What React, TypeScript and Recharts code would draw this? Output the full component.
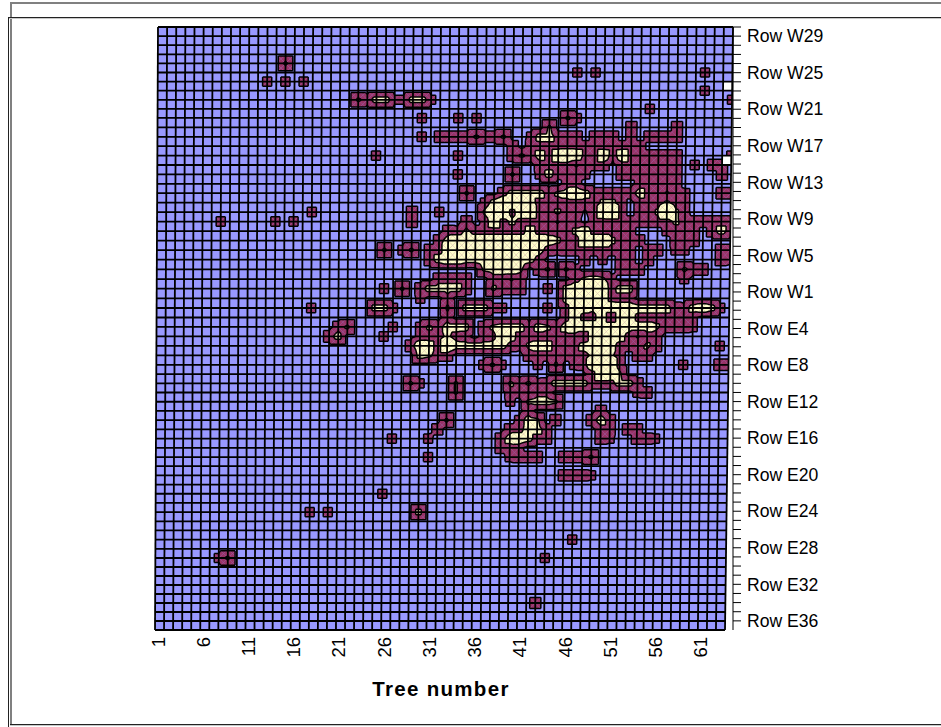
import { Scatter, ScatterChart, XAxis, YAxis } from 'recharts';

const CHART_WIDTH = 941;
const CHART_HEIGHT = 727;

const TREE_TICKS = [1, 6, 11, 16, 21, 26, 31, 36, 41, 46, 51, 56, 61];
const ROW_AXIS_LABELS = [
  'Row W29', 'Row W25', 'Row W21', 'Row W17', 'Row W13', 'Row W9', 'Row W5', 'Row W1', 'Row E4',
  'Row E8', 'Row E12', 'Row E16', 'Row E20', 'Row E24', 'Row E28', 'Row E32', 'Row E36',
];
const ROW_TICKS = Array.from({ length: 66 }, (_, i) => i);

// Cells without a reading: [tree column, grid row]
const MISSING_CELLS = [[63, 6], [63, 14]];

// Readings above background: [grid row, first tree column, one digit per tree]
const HOT_RUNS: [number, number, string][] = [
  [4, 15, '4'],
  [5, 47, '2'], [5, 49, '2'], [5, 61, '2'],
  [6, 13, '2'], [6, 15, '2'], [6, 17, '2'],
  [7, 61, '2'],
  [8, 23, '435522552'], [8, 64, '2'],
  [9, 55, '2'],
  [10, 30, '2'], [10, 34, '2'], [10, 36, '2'], [10, 46, '42'],
  [11, 44, '4'], [11, 53, '3'], [11, 58, '3'],
  [12, 30, '2'], [12, 32, '33334334'], [12, 42, '255333'], [12, 49, '333'], [12, 53, '3'], [12, 55, '3333'],
  [13, 40, '3'], [13, 42, '3333333333333'],
  [14, 25, '2'], [14, 34, '2'], [14, 40, '3435367633626333333'], [14, 64, '2'],
  [15, 43, '33331333'], [15, 52, '3333333'], [15, 60, '2'], [15, 62, '33'],
  [16, 34, '2'], [16, 40, '4'], [16, 43, '252332'], [16, 52, '3333333'], [16, 63, '3'],
  [17, 46, '33'], [17, 54, '33333'],
  [18, 35, '4'], [18, 39, '355553456533333533132'], [18, 63, '33'],
  [19, 37, '25777533333334430333432'],
  [20, 18, '2'], [20, 29, '3'], [20, 32, '2'], [20, 37, '47736633433136730324842'],
  [21, 8, '2'], [21, 14, '2'], [21, 16, '2'], [21, 29, '3'], [21, 35, '3'], [21, 37, '2634333313303333333334333333'],
  [22, 33, '324333333533334633333'], [22, 57, '2333'], [22, 62, '353'],
  [23, 32, '35666666666654336664333'], [23, 58, '333'],
  [24, 26, '4'], [24, 28, '24'], [24, 31, '33666666666653233333333'], [24, 55, '33'], [24, 58, '22'], [24, 63, '33'],
  [25, 31, '3566556666653'], [25, 48, '3'], [25, 50, '2'], [25, 52, '33'], [25, 55, '3'], [25, 63, '32'],
  [26, 37, '45564'], [26, 43, '34'], [26, 46, '42'], [26, 52, '333'], [26, 59, '433'],
  [27, 32, '3333'], [27, 38, '3313'], [27, 47, '34542'], [27, 59, '2'],
  [28, 26, '2'], [28, 28, '4'], [28, 30, '355553'], [28, 38, '4333'], [28, 44, '2'], [28, 46, '56676355'],
  [29, 30, '2'], [29, 33, '3'], [29, 46, '56666322'],
  [30, 18, '2'], [30, 25, '552'], [30, 33, '4'], [30, 35, '55522'], [30, 44, '2'], [30, 46, '365466665555325652'],
  [31, 33, '3'], [31, 46, '363361663333332'],
  [32, 21, '34'], [32, 27, '2'], [32, 30, '2435550345552543566666655543332'],
  [33, 20, '35'], [33, 26, '2'], [33, 30, '233432023753333333166653133'],
  [34, 29, '3653755555532455333566533343'], [34, 63, '2'],
  [35, 30, '5433'], [35, 42, '33333334443'], [35, 54, '33'],
  [36, 37, '242'], [36, 43, '2'], [36, 45, '4'], [36, 47, '236773'], [36, 59, '2'], [36, 63, '33'],
  [37, 49, '3764'],
  [38, 29, '42'], [38, 34, '4'], [38, 40, '434235555333553'],
  [39, 34, '4'], [39, 40, '33133'], [39, 54, '23'],
  [40, 40, '2'], [40, 42, '4554'],
  [41, 42, '3'], [41, 50, '3'],
  [42, 33, '4'], [42, 41, '254'], [42, 45, '3'], [42, 49, '353'],
  [43, 32, '3'], [43, 40, '33553'], [43, 50, '33'], [43, 53, '33'],
  [44, 27, '2'], [44, 31, '2'], [44, 39, '356533'], [44, 50, '32'], [44, 54, '332'],
  [45, 39, '332'],
  [46, 31, '2'], [46, 40, '2333'], [46, 46, '3334'],
  [48, 46, '3332'],
  [50, 26, '2'],
  [52, 18, '2'], [52, 20, '2'], [52, 30, '5'],
  [55, 47, '2'],
  [57, 8, '2'], [57, 9, '4'], [57, 44, '2'],
  [62, 43, '3'],
];

// What each digit in HOT_RUNS stands for on the contour scale
const DIGIT_VALUES = [0, 0.7, 2, 2.6, 5, 6, 7.5, 8.5, 9.5];
const LOW_LEVEL = 1;
const HIGH_LEVEL = 4.2;
const BLUE = '#9999ff';
const MAROON = '#993366';
const CREAM = '#ffffcc';

const LAST_COL = 64;
const LAST_ROW = 65;
const PLOT_LEFT = 155;
const PLOT_RIGHT = 733;
const PLOT_TOP = 27;
const PLOT_BOTTOM = 630;
// The value axis stands clear of the floor, so the column domain runs past the last tree
const COL_DOMAIN_END = 64.884;
const COL_STEP = (PLOT_RIGHT - PLOT_LEFT) / (COL_DOMAIN_END - 1);
const ROW_STEP = (PLOT_BOTTOM - PLOT_TOP) / LAST_ROW;
// Row drift of the leaning surface: [grid row, pixels]
const ROW_DRIFT = [[0, 0], [10, -1.8], [20, -0.5], [24, 0.4], [30, 2.7], [36, 3.9], [46, 3.3], [57, 2.2], [65, 0]];

const readings = new Map<string, number>();
HOT_RUNS.forEach(([row, col, digits]) => {
  digits.split('').forEach((d, i) => readings.set(`${col + i}:${row}`, DIGIT_VALUES[Number(d)]));
});
const valueAt = (col: number, row: number) => readings.get(`${col}:${row}`) ?? 0;

const cells: { col: number; row: number }[] = [];
for (let row = 0; row < LAST_ROW; row++) {
  for (let col = 1; col < LAST_COL; col++) {
    const max = Math.max(valueAt(col, row), valueAt(col + 1, row), valueAt(col, row + 1), valueAt(col + 1, row + 1));
    if (max > 0) cells.push({ col, row });
  }
}
const gridLines = [
  ...Array.from({ length: LAST_ROW + 1 }, (_, row) => ({ col: 1, row, across: true })),
  ...Array.from({ length: LAST_COL }, (_, i) => ({ col: i + 1, row: 0, across: false })),
];

function rowDrift(r: number) {
  for (let i = 1; i < ROW_DRIFT.length; i++) {
    const [r0, d0] = ROW_DRIFT[i - 1];
    const [r1, d1] = ROW_DRIFT[i];
    if (r <= r1) return d0 + ((d1 - d0) * (r - r0)) / (r1 - r0);
  }
  return 0;
}

// The original surface leans back slightly: bend the flat scale into that perspective
function lean(x: number, y: number): [number, number] {
  const depth = (PLOT_BOTTOM - y) / (PLOT_BOTTOM - PLOT_TOP);
  const across = (x - PLOT_LEFT) / 570;
  const r = (y - PLOT_TOP) / ROW_STEP;
  return [x + depth * (3 + across * 5), y + rowDrift(r)];
}

type Pt = { x: number; y: number; v: number };

function clipTriangle(tri: Pt[], level: number) {
  const poly: Pt[] = [];
  const crossings: Pt[] = [];
  tri.forEach((a, i) => {
    const b = tri[(i + 1) % 3];
    if (a.v >= level) poly.push(a);
    if (a.v >= level !== b.v >= level) {
      const f = (level - a.v) / (b.v - a.v);
      const p = { x: a.x + (b.x - a.x) * f, y: a.y + (b.y - a.y) * f, v: level };
      poly.push(p);
      crossings.push(p);
    }
  });
  return { poly, crossings };
}

const toPath = (pts: { x: number; y: number }[], close = true) =>
  pts.map((p, i) => `${i ? 'L' : 'M'}${p.x.toFixed(2)} ${p.y.toFixed(2)}`).join('') + (close ? 'Z' : '');

function corner(cx: number, cy: number, cols: number, rows: number, v: number): Pt {
  const [x, y] = lean(cx + cols * COL_STEP, cy + rows * ROW_STEP);
  return { x, y, v };
}

function SurfaceShape(props: any) {
  const { cx, cy } = props;
  const pts = [
    corner(cx, cy, 0, 0, 0),
    corner(cx, cy, LAST_COL - 1, 0, 0),
    corner(cx, cy, LAST_COL - 1, LAST_ROW, 0),
    corner(cx, cy, 0, LAST_ROW, 0),
  ];
  return <path d={toPath(pts)} fill={BLUE} />;
}

function GapShape(props: any) {
  const { cx, cy } = props;
  const pts = [corner(cx, cy, 0, 0, 0), corner(cx, cy, 1, 0, 0), corner(cx, cy, 1, 1, 0), corner(cx, cy, 0, 1, 0)];
  return <path d={toPath(pts)} fill="#ffffff" />;
}

function CellShape(props: any) {
  const { cx, cy, payload } = props;
  const { col, row } = payload;
  const a = valueAt(col, row);
  const b = valueAt(col + 1, row);
  const c = valueAt(col + 1, row + 1);
  const d = valueAt(col, row + 1);
  const mid = (Math.max(a, b, c, d) + Math.min(a, b, c, d)) / 2;
  const corners = [corner(cx, cy, 0, 0, a), corner(cx, cy, 1, 0, b), corner(cx, cy, 1, 1, c), corner(cx, cy, 0, 1, d)];
  const centre = corner(cx, cy, 0.5, 0.5, mid);
  const low: string[] = [];
  const high: string[] = [];
  let lines = '';
  corners.forEach((p, i) => {
    const tri = [p, corners[(i + 1) % 4], centre];
    const l = clipTriangle(tri, LOW_LEVEL);
    const h = clipTriangle(tri, HIGH_LEVEL);
    if (l.poly.length) low.push(toPath(l.poly));
    if (h.poly.length) high.push(toPath(h.poly));
    if (l.crossings.length === 2) lines += toPath(l.crossings, false);
    if (h.crossings.length === 2) lines += toPath(h.crossings, false);
  });
  return (
    <g>
      {low.map((s, i) => <path key={i} d={s} fill={MAROON} />)}
      {high.map((s, i) => <path key={i} d={s} fill={CREAM} />)}
      {lines && <path d={lines} fill="none" stroke="#000000" strokeWidth={1.5} />}
    </g>
  );
}

function GridLineShape(props: any) {
  const { cx, cy, payload } = props;
  const start = corner(cx, cy, 0, 0, 0);
  const end = payload.across ? corner(cx, cy, LAST_COL - 1, 0, 0) : corner(cx, cy, 0, LAST_ROW, 0);
  if (payload.across) {
    return <path d={toPath([start, { x: end.x, y: start.y }], false)} stroke="#000000" strokeWidth={1.8} fill="none" />;
  }
  return <path d={toPath([start, end], false)} stroke="#000000" strokeWidth={1.8} fill="none" />;
}

function TreeTick(props: any) {
  const { x, y, payload } = props;
  return (
    <text
      transform={`translate(${x + 9.5}, ${y}) rotate(-90)`}
      textAnchor="end"
      fontSize={18.5}
      fontFamily="'Liberation Sans', Arial, sans-serif"
      fill="#000000"
    >
      {payload.value}
    </text>
  );
}

const rowTickLabel = (value: number) => (value % 4 === 1 ? ROW_AXIS_LABELS[(value - 1) / 4] : '');

function Frame() {
  const line = (left: number, top: number, width: number, height: number, background: string) => (
    <div style={{ position: 'absolute', left, top, width, height, background }} />
  );
  return (
    <>
      {line(10, 2, 931, 2, '#808080')}
      {line(10, 3, 2, 721, '#808080')}
      {line(8, 17, 933, 1, '#222222')}
      {line(8, 18, 933, 1, '#c8c8c8')}
      {line(8, 17, 1, 710, '#222222')}
      {line(10, 724, 931, 1, '#222222')}
      {line(10, 725, 931, 1, '#c8c8c8')}
    </>
  );
}

export default function App() {
  return (
    <div style={{ position: 'absolute', left: 0, top: 0, width: CHART_WIDTH, height: CHART_HEIGHT, background: '#ffffff', overflow: 'hidden' }}>
      <Frame />
      <div style={{ position: 'absolute', left: 0, top: 0 }}>
        <ScatterChart
          width={CHART_WIDTH}
          height={CHART_HEIGHT}
          margin={{ top: PLOT_TOP, right: 8, bottom: 7, left: PLOT_LEFT }}
        >
          <XAxis
            dataKey="col"
            type="number"
            domain={[1, COL_DOMAIN_END]}
            ticks={TREE_TICKS}
            interval={0}
            height={90}
            axisLine={false}
            tickLine={false}
            tickSize={0}
            tickMargin={7}
            tick={<TreeTick />}
            label={{
              value: 'Tree number',
              position: 'insideBottom',
              offset: 24,
              dx: -3,
              style: { fontSize: 20.5, fontWeight: 700, letterSpacing: 1.3, fontFamily: "'Liberation Sans', Arial, sans-serif", fill: '#000000' },
            }}
          />
          <YAxis yAxisId="surface" dataKey="row" type="number" domain={[0, LAST_ROW]} reversed hide />
          <YAxis
            yAxisId="rows"
            dataKey="row"
            orientation="right"
            type="number"
            domain={[0, 66]}
            reversed
            ticks={ROW_TICKS}
            interval={0}
            width={200}
            tickSize={8}
            tickMargin={6}
            tickFormatter={rowTickLabel}
            axisLine={{ stroke: '#000000' }}
            tickLine={{ stroke: '#000000' }}
            tick={{ fontSize: 17.6, fill: '#000000', fontFamily: "'Liberation Sans', Arial, sans-serif" }}
          />
          <Scatter yAxisId="surface" data={[{ col: 1, row: 0 }]} shape={SurfaceShape} isAnimationActive={false} />
          <Scatter yAxisId="surface" data={cells} shape={CellShape} isAnimationActive={false} />
          <Scatter
            yAxisId="surface"
            data={MISSING_CELLS.map(([col, row]) => ({ col, row }))}
            shape={GapShape}
            isAnimationActive={false}
          />
          <Scatter yAxisId="surface" data={gridLines} shape={GridLineShape} isAnimationActive={false} />
          <Scatter
            yAxisId="rows"
            data={ROW_TICKS.map((row) => ({ col: 1, row }))}
            shape={() => <g />}
            isAnimationActive={false}
          />
        </ScatterChart>
      </div>
    </div>
  );
}
